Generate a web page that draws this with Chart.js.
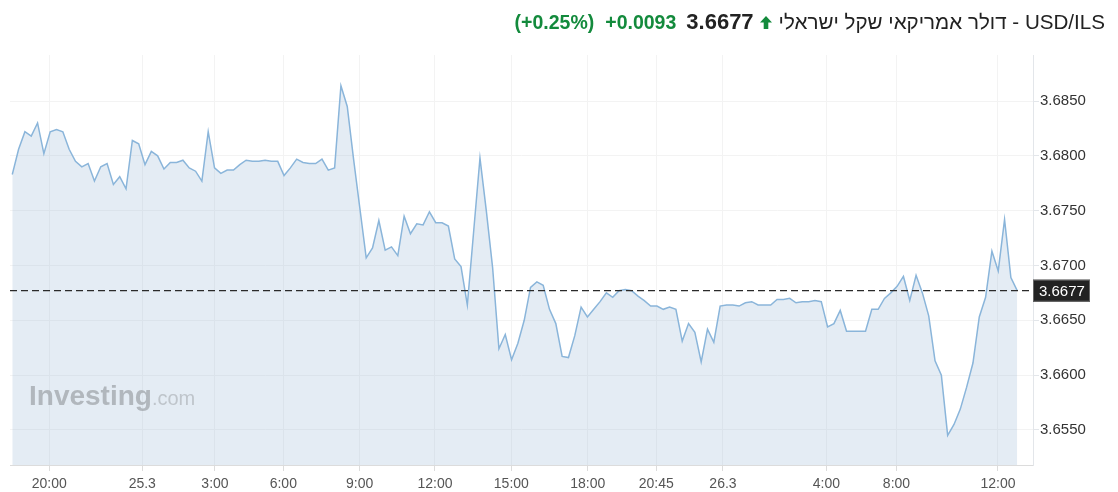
<!DOCTYPE html>
<html>
<head>
<meta charset="utf-8">
<script src="https://cdn.jsdelivr.net/npm/chart.js@4.4.1/dist/chart.umd.min.js"></script>
<style>
  html, body { margin: 0; padding: 0; background: #fff; }
  #wrap { position: relative; width: 1118px; height: 492px; }
  #hdr {
    position: absolute; top: 9px; right: 13px;
    display: flex; align-items: baseline; direction: ltr;
    font-family: "Liberation Sans", Arial, sans-serif; white-space: nowrap;
  }
  #hdr .pct, #hdr .chg { color: #138a3c; font-weight: bold; font-size: 19.5px; }
  #hdr .chg { margin-left: 11px; }
  #hdr .last { color: #222; font-weight: bold; font-size: 22px; margin-left: 10px; }
  #hdr .arrow { margin-left: 6px; margin-right: 7px; }
  #hdr .title { color: #222; font-size: 20.6px; }
</style>
</head>
<body>
<div id="wrap">
  <canvas id="chart" width="1118" height="492"></canvas>
  <div id="hdr">
    <span class="pct">(+0.25%)</span>
    <span class="chg">+0.0093</span>
    <span class="last">3.6677</span>
    <svg class="arrow" width="12" height="13" viewBox="0 0 12 13"><path d="M6 0 L12 6.5 L8.3 6.5 L8.3 13 L3.7 13 L3.7 6.5 L0 6.5 Z" fill="#138a3c"/></svg>
    <span class="title" dir="rtl">USD/ILS - דולר אמריקאי שקל ישראלי</span>
  </div>
</div>
<script>
document.addEventListener('DOMContentLoaded', function () {

    // --- data (one point per 15 min) ---
    const prices = [
        3.6783, 3.6806, 3.6822, 3.6818, 3.6830, 3.6802, 3.6822, 3.6824, 3.6822, 3.6806,
        3.6795, 3.6790, 3.6793, 3.6777, 3.6790, 3.6793, 3.6774, 3.6781, 3.6770, 3.6814,
        3.6811, 3.6792, 3.6804, 3.6800, 3.6788, 3.6794, 3.6794, 3.6796, 3.6789, 3.6786,
        3.6777, 3.6822, 3.6789, 3.6784, 3.6787, 3.6787, 3.6792, 3.6796, 3.6795, 3.6795,
        3.6796, 3.6795, 3.6795, 3.6782, 3.6789, 3.6797, 3.6794, 3.6793, 3.6793, 3.6797,
        3.6787, 3.6789, 3.6864, 3.6845, 3.6797, 3.6752, 3.6707, 3.6716, 3.6741, 3.6714,
        3.6717, 3.6709, 3.6745, 3.6729, 3.6738, 3.6737, 3.6749, 3.6739, 3.6739, 3.6736,
        3.6706, 3.6699, 3.6664, 3.6731, 3.6798, 3.6750, 3.6698, 3.6624, 3.6637, 3.6614,
        3.6629, 3.6650, 3.6680, 3.6685, 3.6682, 3.6660, 3.6647, 3.6617, 3.6616, 3.6636,
        3.6662, 3.6653, 3.6660, 3.6667, 3.6675, 3.6671, 3.6677, 3.6678, 3.6677, 3.6672,
        3.6668, 3.6663, 3.6663, 3.6660, 3.6662, 3.6660, 3.6631, 3.6647, 3.6639, 3.6612,
        3.6642, 3.6630, 3.6663, 3.6664, 3.6664, 3.6663, 3.6666, 3.6667, 3.6664, 3.6664,
        3.6664, 3.6669, 3.6669, 3.6670, 3.6666, 3.6667, 3.6667, 3.6668, 3.6667, 3.6644,
        3.6647, 3.6659, 3.6640, 3.6640, 3.6640, 3.6640, 3.6660, 3.6660, 3.6670, 3.6675,
        3.6681, 3.6690, 3.6668, 3.6691, 3.6675, 3.6654, 3.6613, 3.6600, 3.6545, 3.6555,
        3.6569, 3.6589, 3.6611, 3.6653, 3.6671, 3.6713, 3.6695, 3.6742, 3.6689, 3.6677
    ];
    const lastPrice = 3.6677;

    // x labels sit between points, so keep their (fractional) point index
    const xTickPos = [5.85, 20.57, 32.07, 42.88, 54.95, 66.88, 78.96, 91.05, 101.9, 112.45, 128.8, 139.9, 155.96];
    const xTickLabels = ['20:00', '25.3', '3:00', '6:00', '9:00', '12:00', '15:00', '18:00', '20:45', '26.3', '4:00', '8:00', '12:00'];
    const yTicks = [3.6550, 3.6600, 3.6650, 3.6700, 3.6750, 3.6800, 3.6850];

    const points = prices.map((p, i) => ({ x: i, y: p }));

    // dashed last-price line + black price box + watermark
    const overlay = {
        id: 'overlay',
        afterDatasetsDraw(chart) {
            const c = chart.ctx;
            const area = chart.chartArea;
            const y = chart.scales.y.getPixelForValue(lastPrice);

            // watermark
            c.save();
            c.textBaseline = 'alphabetic';
            c.font = 'bold 28px "Liberation Sans", Arial, sans-serif';
            c.fillStyle = 'rgba(150,155,160,0.65)';
            c.fillText('Investing', 29, 405);
            const w = c.measureText('Investing').width;
            c.font = '20px "Liberation Sans", Arial, sans-serif';
            c.fillStyle = 'rgba(165,170,175,0.6)';
            c.fillText('.com', 29 + w, 405);
            c.restore();

            c.save();
            c.strokeStyle = '#2a2a2a';
            c.lineWidth = 1.3;
            c.setLineDash([7, 4]);
            c.beginPath();
            c.moveTo(area.left, y);
            c.lineTo(area.right, y);
            c.stroke();
            c.restore();
        },
        afterDraw(chart) {
            const c = chart.ctx;
            const area = chart.chartArea;
            const y = chart.scales.y.getPixelForValue(lastPrice);
            c.save();
            c.fillStyle = '#222';
            c.strokeStyle = '#666';
            c.lineWidth = 1;
            c.fillRect(area.right, y - 11, 57, 22);
            c.strokeRect(area.right + 0.5, y - 10.5, 56, 21);
            c.fillStyle = '#fff';
            c.font = '15px "Liberation Sans", Arial, sans-serif';
            c.textBaseline = 'middle';
            c.fillText(lastPrice.toFixed(4), area.right + 6, y + 1);
            c.restore();
        }
    };

    new Chart(document.getElementById('chart'), {
        type: 'line',
        data: {
            datasets: [{
                data: points,
                borderColor: '#8ab5da',
                borderWidth: 1.5,
                backgroundColor: 'rgba(165,192,218,0.3)',
                fill: 'start',
                pointRadius: 0,
                tension: 0
            }]
        },
        options: {
            responsive: false,
            animation: false,
            events: [],
            layout: { padding: { left: 10, top: 55, right: 0, bottom: 0 } },
            plugins: { legend: { display: false }, tooltip: { enabled: false } },
            scales: {
                x: {
                    type: 'linear',
                    min: -0.36,
                    max: 161.5,
                    afterBuildTicks: s => { s.ticks = xTickPos.map(v => ({ value: v })); },
                    afterFit: s => { s.height = 27; },
                    grid: { color: '#f3f3f3', tickColor: '#dcdcdc', tickLength: 6 },
                    border: { color: '#dcdcdc' },
                    ticks: {
                        autoSkip: false, maxRotation: 0, padding: 5,
                        color: '#555',
                        font: { family: '"Liberation Sans", Arial, sans-serif', size: 14 },
                        callback: (v, i) => xTickLabels[i]
                    }
                },
                y: {
                    position: 'right',
                    min: 3.6518,
                    max: 3.6892,
                    afterBuildTicks: s => { s.ticks = yTicks.map(v => ({ value: v })); },
                    afterFit: s => { s.width = 85; },
                    grid: { color: '#f3f3f3', tickColor: '#e3e6ea', tickLength: 6 },
                    border: { color: '#e3e6ea' },
                    ticks: {
                        padding: 1,
                        color: '#333',
                        font: { family: '"Liberation Sans", Arial, sans-serif', size: 15 },
                        callback: v => v.toFixed(4)
                    }
                }
            }
        },
        plugins: [overlay]
    });
});
</script>
</body>
</html>
